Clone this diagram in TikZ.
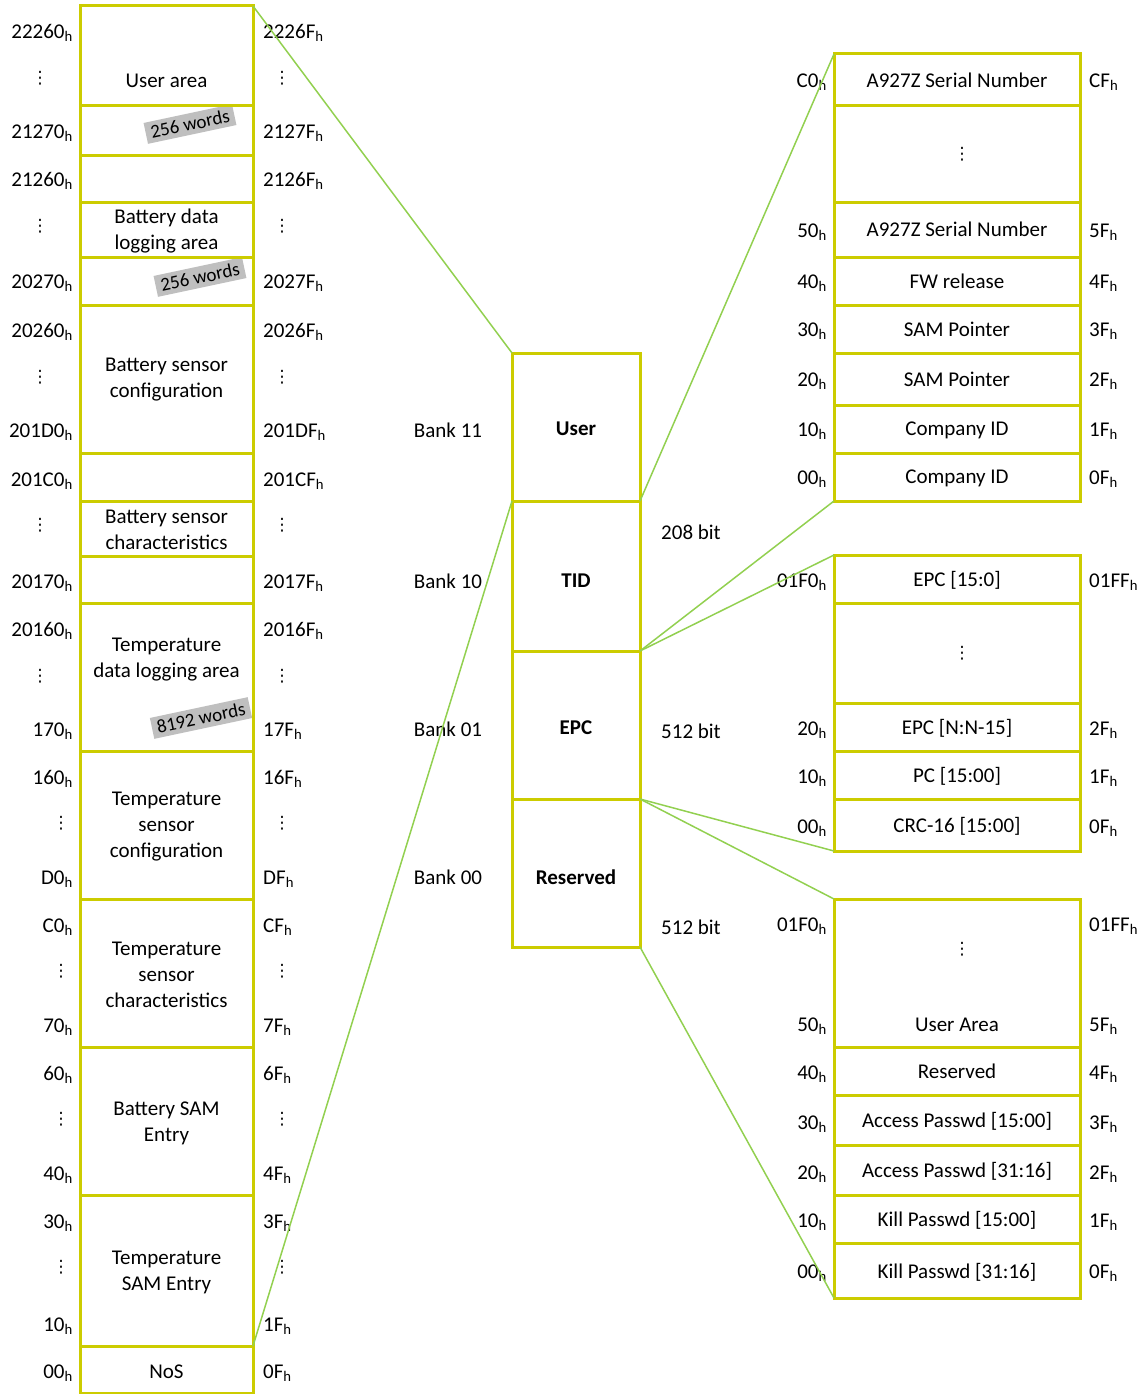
\documentclass[tikz,border=0pt]{standalone}
\usepackage{fontspec}
\setmainfont{Carlito}
\newfontfamily\symfont{DejaVu Sans}
\usetikzlibrary{positioning}
\definecolor{cellline}{RGB}{204,204,0}
\definecolor{linkgreen}{RGB}{146,208,80}
\newcommand{\hx}[1]{#1\textsubscript{h}}
\newcommand{\vd}{{\symfont\fontsize{17}{17}\selectfont ⋮}}

\begin{document}
\begin{tikzpicture}[
	x=1pt, y=-1pt,
	font=\fontsize{21}{26}\selectfont,
	cell/.style = {rectangle, draw=cellline, line width=3pt,
		outer sep=0pt, inner sep=0pt},
	lcell/.style = {cell, minimum width=173pt},
	mcell/.style = {cell, minimum width=128pt},
	rcell/.style = {cell, minimum width=246pt, text depth=0pt},
	bank/.style = {font=\fontsize{21}{26}\selectfont\bfseries},
	txt/.style = {align=center, inner sep=0pt},
	adrl/.style = {anchor=east, inner sep=0pt, yshift=-2pt},
	adrr/.style = {anchor=west, inner sep=0pt, yshift=-2pt},
	dots/.style = {inner sep=0pt},
	tag/.style = {fill=black!25, rotate=12, inner xsep=5pt, inner ysep=4pt,
		font=\fontsize{19}{19}\selectfont},
	link/.style = {draw=linkgreen, line width=1.5pt},
	]
	\useasboundingbox (0,0) rectangle (1143,1394);
	
	% word counts (under the cell borders)
	\node[tag] (tag1) at (190,124) {256 words};
	\node[tag] (tag2) at (200,277) {256 words};
	\node[tag] (tag3) at (201,718) {8192 words};
	
	% left column
	\foreach \nm/\ya/\yb in {L1/6/106, L2/106/155, L3/155/202, L4/202/257,
		L5/257/305, L6/305/453, L7/453/501, L8/501/556, L9/556/603,
		L10/603/751, L11/751/899, L12/899/1047, L13/1047/1195,
		L14/1195/1346, L15/1346/1393}
	\node[lcell, minimum height={\yb-\ya}] (\nm) at (166.5,{(\ya+\yb)/2}) {};
	
	\node[txt] (usr) at (166.5,81) {User area};
	\node[txt] (batlog) at (166.5,231) {Battery data\\logging area};
	\node[txt] (batcfg) at (166.5,380) {Battery sensor\\configuration};
	\node[txt] (batchr) at (166.5,530) {Battery sensor\\characteristics};
	\node[txt] (tmplog) at (166.5,660) {Temperature\\data logging area};
	\node[txt] (tmpcfg) at (166.5,827) {Temperature\\sensor\\configuration};
	\node[txt] (tmpchr) at (166.5,975) {Temperature\\sensor\\characteristics};
	\node[txt] (batsam) at (166.5,1123) {Battery SAM\\Entry};
	\node[txt] (tmpsam) at (166.5,1272) {Temperature\\SAM Entry};
	\node[txt] (nos) at (166.5,1372) {NoS};
	
	\foreach \y/\a/\b [count=\i] in {31/22260/2226F, 131/21270/2127F,
		179/21260/2126F, 281/20270/2027F, 330/20260/2026F, 430/201D0/201DF,
		479/201C0/201CF, 581/20170/2017F, 629/20160/2016F, 729/170/17F,
		777/160/16F, 877/D0/DF, 925/C0/CF, 1025/70/7F, 1073/60/6F,
		1173/40/4F, 1221/30/3F, 1324/10/1F, 1371/00/0F}
	{\node[adrl] (la\i) at (73,\y) {\hx{\a}};
	 \node[adrr] (ra\i) at (263,\y) {\hx{\b}};}
	
	\foreach \x/\y [count=\i] in {40/78, 40/226, 40/377, 40/525, 40/676,
		61/823, 61/971, 61/1119, 61/1267}
	{\node[dots] (ld\i) at (\x,\y) {\vd};
	 \node[dots] (rd\i) at (282,\y) {\vd};}
	
	% memory banks
	\foreach \nm/\ya/\yb/\ty/\t in {M1/353/501/429/User, M2/501/651/581/TID,
		M3/651/799/728/EPC, M4/799/947/877/Reserved}
	{\node[mcell, minimum height={\yb-\ya}] (\nm) at (576,{(\ya+\yb)/2}) {};
	 \node[bank] (\nm t) at (576,\ty) {\t};}
	
	\node (b11) at (448,430) {Bank 11};
	\node (b10) at (448,581) {Bank 10};
	\node (b01) at (448,729) {Bank 01};
	\node (b00) at (448,877) {Bank 00};
	
	\node[adrr] (bit1) at (661,530) {208 bit};
	\node[adrr] (bit2) at (661,729) {512 bit};
	\node[adrr] (bit3) at (661,925) {512 bit};
	
	% right column
	\foreach \nm/\ya/\yb/\t in {R1/54/106/A927Z Serial Number, R2/106/202/,
		R3/202/257/A927Z Serial Number, R4/257/305/FW release,
		R5/305/353/SAM Pointer, R6/353/405/SAM Pointer,
		R7/405/453/Company ID, R8/453/501/Company ID,
		E1/555/603/{EPC [15:0]}, E2/603/703/, E3/703/751/{EPC [N:N-15]},
		E4/751/799/{PC [15:00]}, E5/799/851/{CRC-16 [15:00]},
		S1/899/1047/, S2/1047/1095/Reserved,
		S3/1095/1145/{Access Passwd [15:00]}, S4/1145/1195/{Access Passwd [31:16]},
		S5/1195/1243/{Kill Passwd [15:00]}, S6/1243/1298/{Kill Passwd [31:16]}}
	\node[rcell, minimum height={\yb-\ya}] (\nm) at (957,{(\ya+\yb)/2}) {\t};
	
	\node[dots] (rdA) at (962,154) {\vd};
	\node[dots] (rdB) at (962,653) {\vd};
	\node[dots] (rdC) at (962,949) {\vd};
	\node[txt] (uarea) at (957,1025) {User Area};
	
	\foreach \y/\a/\b [count=\i] in {80/C0/CF, 230/50/5F, 281/40/4F,
		329/30/3F, 379/20/2F, 429/10/1F, 477/00/0F,
		580/01F0/01FF, 728/20/2F, 776/10/1F, 826/00/0F,
		924/01F0/01FF, 1024/50/5F, 1072/40/4F, 1122/30/3F,
		1172/20/2F, 1220/10/1F, 1271/00/0F}
	{\node[adrl] (lb\i) at (827,\y) {\hx{\a}};
	 \node[adrr] (rb\i) at (1089,\y) {\hx{\b}};}
	
	% links
	\draw[link] (L1.north east) -- (M1.north west);
	\draw[link] (L14.south east) -- (M1.south west);
	\draw[link] (M2.north east) -- (R1.north west);
	\draw[link] (M2.south east) -- (R8.south west);
	\draw[link] (M3.north east) -- (E1.north west);
	\draw[link] (M3.south east) -- (E5.south west);
	\draw[link] (M4.north east) -- (S1.north west);
	\draw[link] (M4.south east) -- (S6.south west);
\end{tikzpicture}
\end{document}
